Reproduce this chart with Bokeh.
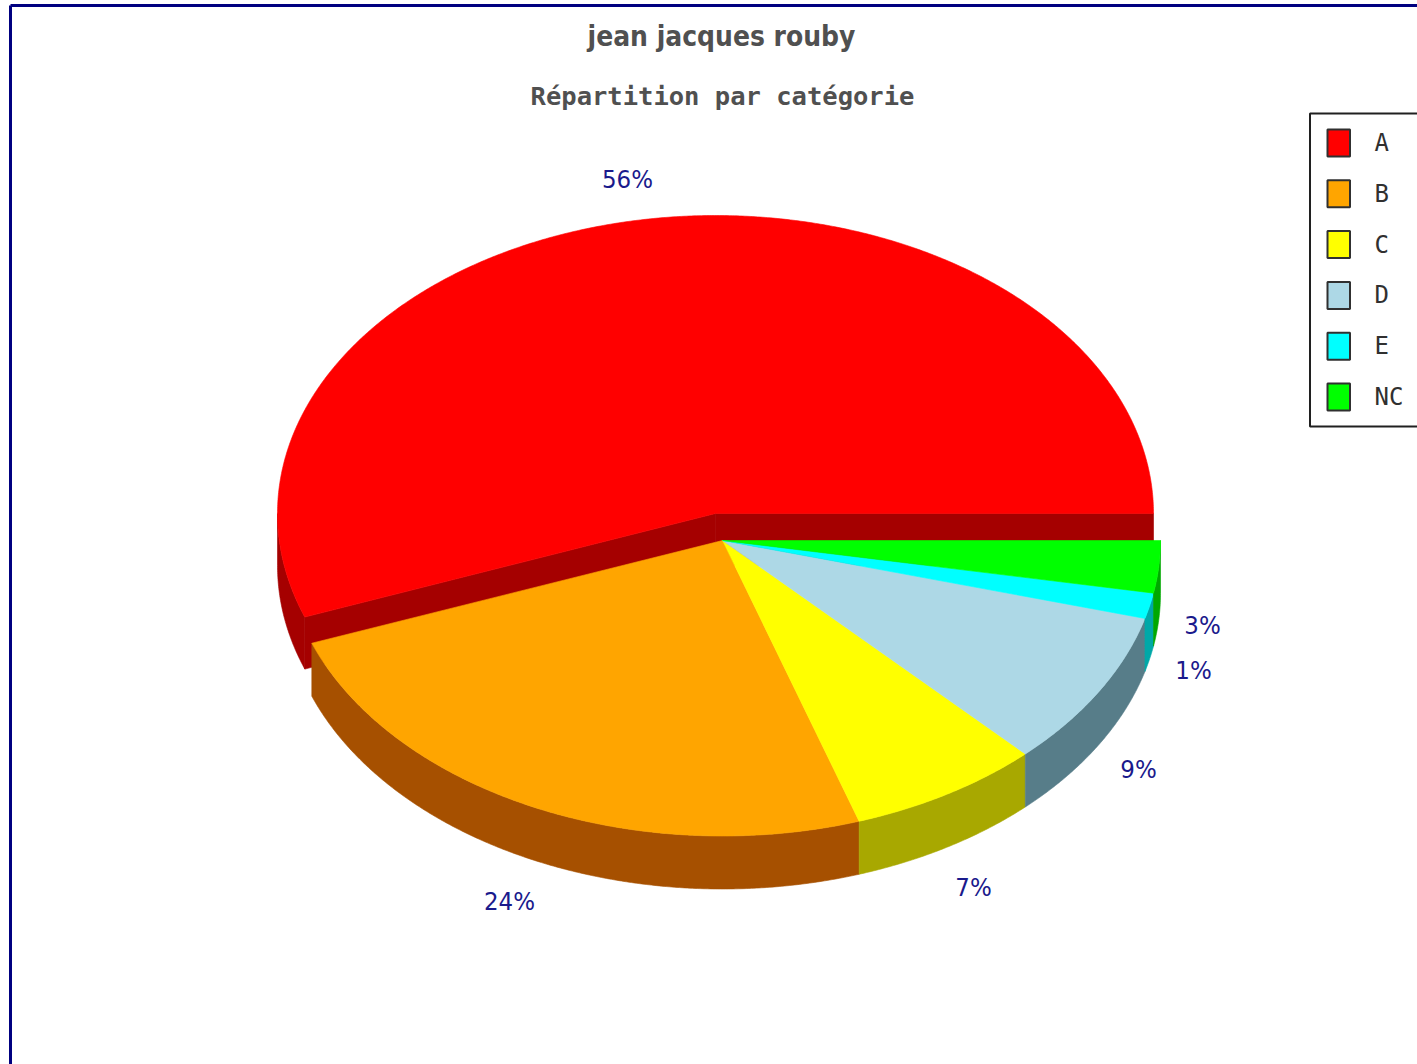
import numpy as np
from bokeh.plotting import figure
from bokeh.models import Range1d
from bokeh.core.properties import value
from bokeh.embed import file_html
from bokeh.resources import INLINE

# ---- data
categories = ["A", "B", "C", "D", "E", "NC"]
percents = [55.65, 24.4, 7.1, 8.6, 1.4, 2.85]
top_colors = ["#ff0000", "#ffa500", "#ffff00", "#add8e6", "#00ffff", "#00ff00"]
side_colors = ["#a50000", "#a65000", "#a8a800", "#577d89", "#00a8a8", "#00a800"]
title_text = "jean jacques rouby"
subtitle_text = "Répartition par catégorie"

# ---- layout (picture pixels)
W, H = 1417, 1064
CX, CY, RX, RY, DEPTH = 722.0, 540.0, 438.0, 295.5, 53.0
EXPLODE = {"A": (-7.0, -27.0, 298.0, 52.0)}
label_xy = {"A": (627, 178), "B": (509, 900), "C": (973, 886),
            "D": (1138, 768), "E": (1193, 669), "NC": (1202, 624)}
NARROW = "DejaVu Sans Condensed"
MONO = "DejaVu Sans Mono"

p = figure(width=W, height=H, output_backend="svg", toolbar_location=None,
           x_range=Range1d(0, W), y_range=Range1d(H, 0), min_border=0,
           outline_line_color=None, background_fill_color="#ffffff",
           border_fill_color="#ffffff")
p.axis.visible = False
p.grid.visible = False


def arc(cx, cy, ry, a0, a1, dz=0.0):
    t = np.radians(np.linspace(a0, a1, max(int(abs(a1 - a0) * 3), 2)))
    return cx + RX * np.cos(t), cy + ry * np.sin(t) + dz


def poly(xs, ys, color):
    p.patch(list(xs), list(ys), fill_color=color, line_color=color, line_width=0.6)


def draw_slice(cat, a0, a1, top, side):
    dx, dy, ry, depth = EXPLODE.get(cat, (0.0, 0.0, RY, DEPTH))
    cx, cy = CX + dx, CY + dy
    if cat in EXPLODE:
        for a in (a0, a1):
            ex, ey = arc(cx, cy, ry, a, a + 0.01)
            poly([cx, ex[0], ex[0], cx], [cy, ey[0], ey[0] + depth, cy + depth], side)
    f0, f1 = max(a0, 0.0), min(a1, 180.0)
    if f1 > f0:
        x0, y0 = arc(cx, cy, ry, f0, f1)
        x1, y1 = arc(cx, cy, ry, f1, f0, depth)
        poly(np.r_[x0, x1], np.r_[y0, y1], side)
    x0, y0 = arc(cx, cy, ry, a0, a1)
    poly(np.r_[cx, x0], np.r_[cy, y0], top)


order = list(range(len(categories)))[::-1]
angles = {}
cum = 0.0
for i in order:
    angles[i] = (cum * 3.6, (cum + percents[i]) * 3.6)
    cum += percents[i]

for i in range(len(categories)):
    draw_slice(categories[i], angles[i][0], angles[i][1], top_colors[i], side_colors[i])

# Percentage labels
for c, v in zip(categories, percents):
    lx, ly = label_xy[c]
    p.text([lx], [ly], text=[f"{round(v)}%"], text_align="center", text_baseline="middle",
           text_color="#1a1a8c", text_font=value(NARROW), text_font_size="25.5px")

# Titles
p.text([721], [36], text=[title_text], text_align="center", text_baseline="middle",
       text_color="#505050", text_font=value(NARROW), text_font_style="bold",
       text_font_size="27.9px")
p.text([722], [95.5], text=[subtitle_text], text_align="center", text_baseline="middle",
       text_color="#505050", text_font=value(MONO), text_font_style="bold",
       text_font_size="25.5px")

# Frame
p.segment([10, 10], [5, 5], [W, 10], [5, H], line_color="#000080", line_width=3)

# Legend
p.quad(left=[1309.5], right=[W + 20], top=[113], bottom=[426], fill_color="#ffffff",
       line_color="#202020", line_width=2)
for k, (c, col) in enumerate(zip(categories, top_colors)):
    yy = 142.5 + 50.8 * k
    p.quad(left=[1327], right=[1349.5], top=[yy - 13.5], bottom=[yy + 13.5],
           fill_color=col, line_color="#303030", line_width=2)
    p.text([1374], [yy], text=[c], text_align="left", text_baseline="middle",
           text_color="#303030", text_font=value(MONO), text_font_size="24px")

open("out.html", "w").write(file_html(p, INLINE))
